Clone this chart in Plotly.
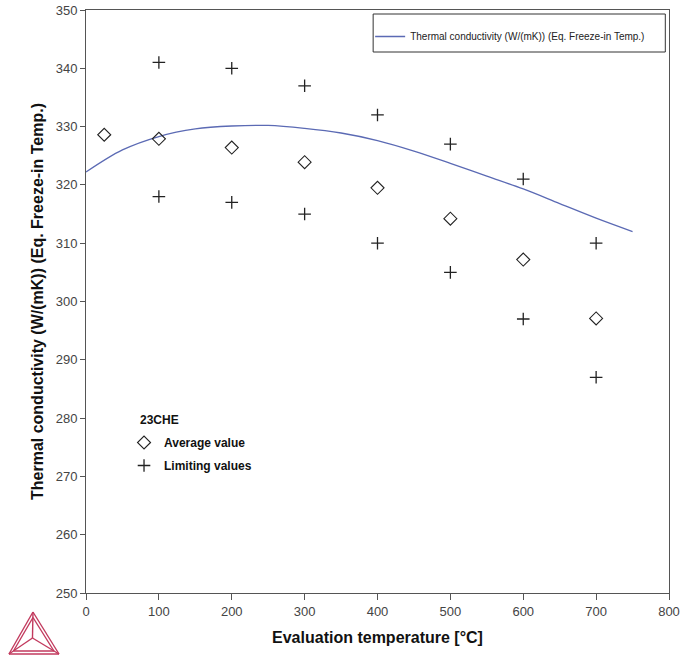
import plotly.graph_objects as go

# ---- data ----
avg_temp = [25, 100, 200, 300, 400, 500, 600, 700]
avg_value = [328.6, 327.9, 326.4, 323.9, 319.5, 314.2, 307.2, 297.1]

lim_temp = [100, 200, 300, 400, 500, 600, 700, 100, 200, 300, 400, 500, 600, 700]
lim_value = [341, 340, 337, 332, 327, 321, 310, 318, 317, 315, 310, 305, 297, 287]

curve_temp = [0, 50, 100, 150, 200, 250, 300, 350, 400, 450, 500, 550, 600, 650, 700, 750]
curve_value = [322.2, 326.0, 328.3, 329.6, 330.1, 330.2, 329.7, 328.9, 327.6, 325.8,
               323.7, 321.5, 319.3, 316.8, 314.3, 312.0]

x_ticks = [0, 100, 200, 300, 400, 500, 600, 700, 800]
y_ticks = [250, 260, 270, 280, 290, 300, 310, 320, 330, 340, 350]

FONT = "Liberation Sans, Arial, sans-serif"
LINE_COLOR = "#5b6ab4"
LOGO = "#c23a5e"

PAGE_W, PAGE_H = 682, 657
# plot-area geometry in page pixels (for decoration placement)
L, R, T, B = 86, 668.7, 10, 593


def px2paper(px, py):
    return (px - L) / (R - L), (B - py) / (B - T)


fig = go.Figure()
fig.add_trace(go.Scatter(
    x=curve_temp, y=curve_value, mode="lines",
    line=dict(color=LINE_COLOR, width=1.3, shape="spline"),
    name="Thermal conductivity (W/(mK)) (Eq. Freeze-in Temp.)",
    legend="legend",
))
fig.add_trace(go.Scatter(
    x=avg_temp, y=avg_value, mode="markers",
    marker=dict(symbol="diamond-open", size=10, color="#222", line=dict(width=1.1)),
    name="<b>Average value</b>", legend="legend2", legendgroup="a",
))
fig.add_trace(go.Scatter(
    x=lim_temp, y=lim_value, mode="markers",
    marker=dict(symbol="cross-thin-open", size=9, color="#222", line=dict(width=1.3, color="#222")),
    name="<b>Limiting values</b>", legend="legend2", legendgroup="b",
))


def seg(p1, p2, color=LOGO, w=1.4):
    x0, y0 = px2paper(*p1)
    x1, y1 = px2paper(*p2)
    return dict(type="line", xref="paper", yref="paper", x0=x0, y0=y0, x1=x1, y1=y1,
                line=dict(color=color, width=w), layer="above")


# Thermo-Calc style logo (decoration)
apex, bl, br, ctr = (33, 612), (9, 654), (59, 654), (32.5, 638)
apex2, bl2, br2 = (33, 617.5), (13.5, 651), (54, 651)
shapes = [seg(apex, bl), seg(bl, br), seg(br, apex),
          seg(apex2, bl2), seg(bl2, br2), seg(br2, apex2),
          seg(apex, ctr), seg(ctr, bl), seg(ctr, br)]

# main legend frame
lx0, ly0 = px2paper(373, 14)
lx1, ly1 = px2paper(665, 52)
shapes.append(dict(type="rect", xref="paper", yref="paper", x0=lx0, y0=ly0, x1=lx1, y1=ly1,
                   line=dict(color="#333", width=1), fillcolor="rgba(0,0,0,0)", layer="above"))

leg_x, leg_y = px2paper(370, 22)
leg2_x, leg2_y = px2paper(124, 428)
t_x, t_y = px2paper(138, 420)

fig.update_layout(
    width=PAGE_W, height=PAGE_H,
    margin=dict(l=L, r=PAGE_W - R, t=T, b=PAGE_H - B),
    paper_bgcolor="white", plot_bgcolor="white",
    font=dict(family=FONT, color="#222"),
    shapes=shapes,
    annotations=[dict(text="<b>23CHE</b>", xref="paper", yref="paper", x=t_x, y=t_y,
                      xanchor="left", yanchor="middle", showarrow=False,
                      font=dict(size=12, color="#111"))],
    xaxis=dict(
        range=[0, 800], tickvals=x_ticks, ticks="outside", ticklen=6, tickcolor="#555",
        showline=True, linecolor="#555", linewidth=1, mirror=True, showgrid=False, zeroline=False,
        automargin=False, ticklabeloverflow="allow",
        tickfont=dict(size=13, color="#444", family=FONT),
        title=dict(text="<b>Evaluation temperature [°C]</b>", font=dict(size=16, color="#111"), standoff=14),
    ),
    yaxis=dict(
        range=[250, 350], tickvals=y_ticks, ticks="outside", ticklen=5, tickcolor="#555",
        showline=True, linecolor="#555", linewidth=1, mirror=True, showgrid=False, zeroline=False,
        automargin=False, ticklabeloverflow="allow",
        tickfont=dict(size=13, color="#444", family=FONT),
        title=dict(text="<b>Thermal conductivity (W/(mK)) (Eq. Freeze-in Temp.)</b>",
                   font=dict(size=16, color="#111"), standoff=8),
    ),
    legend=dict(
        x=leg_x, y=leg_y, xanchor="left", yanchor="top",
        borderwidth=0, bgcolor="rgba(0,0,0,0)",
        font=dict(size=10, color="#222"),
    ),
    legend2=dict(
        x=leg2_x, y=leg2_y, xanchor="left", yanchor="top",
        bgcolor="rgba(0,0,0,0)", borderwidth=0, tracegroupgap=4,
        font=dict(size=12, color="#111"),
    ),
    showlegend=True,
)

fig.write_html(
    "out.html",
    config={"displayModeBar": False},
    post_script="document.body.style.margin='0';document.body.style.overflow='hidden';",
)
